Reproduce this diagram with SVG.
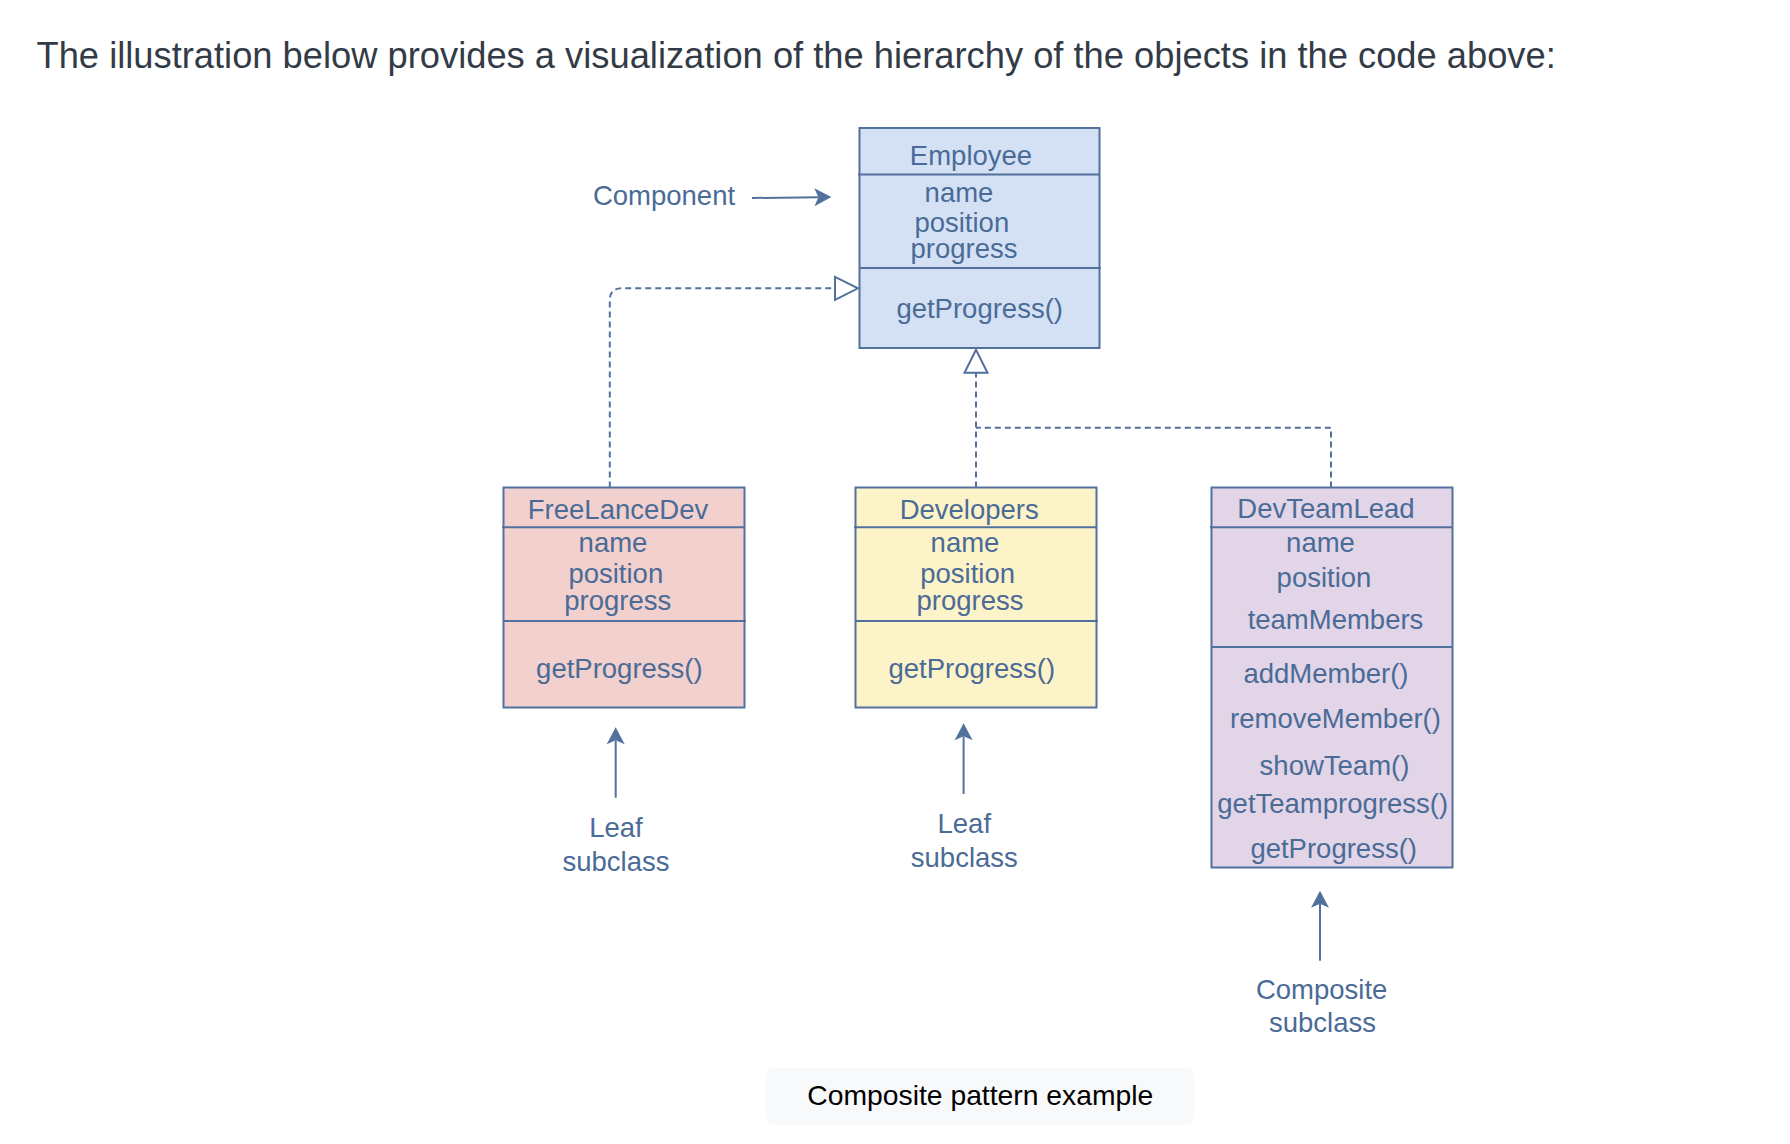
<svg xmlns="http://www.w3.org/2000/svg" width="1790" height="1144" viewBox="0 0 1790 1144">
<style>
  .t { font-family: "Liberation Sans", Arial, Helvetica, sans-serif; font-size: 27.5px; fill: #4b6b97; text-anchor: middle; }
  .box { stroke: #52719c; stroke-width: 2; }
  .div { stroke: #52719c; stroke-width: 2; fill: none; }
  .dash { stroke: #52719c; stroke-width: 2; fill: none; stroke-dasharray: 6 4; }
  .solid { stroke: #52719c; stroke-width: 2; fill: none; }
  .title { font-family: "Liberation Sans", Arial, Helvetica, sans-serif; font-size: 36.3px; fill: #333b47; }
  .cap { font-family: "Liberation Sans", Arial, Helvetica, sans-serif; font-size: 28.3px; fill: #000000; text-anchor: middle; }
</style>
<defs>
  <marker id="arrow" markerUnits="userSpaceOnUse" viewBox="0 0 17 18" refX="4" refY="9" markerWidth="17" markerHeight="18" orient="auto" overflow="visible">
    <path d="M17 9 L0 0 L4 9 L0 18 Z" fill="#52719c" stroke="none"/>
  </marker>
  <marker id="tri" markerUnits="userSpaceOnUse" viewBox="0 0 23 23" refX="0" refY="11.5" markerWidth="23" markerHeight="23" orient="auto" overflow="visible">
    <path d="M0 0 L23 11.5 L0 23 Z" fill="#ffffff" stroke="#52719c" stroke-width="2"/>
  </marker>
</defs>
<rect x="0" y="0" width="1790" height="1144" fill="#ffffff"/>
<text class="title" x="36.5" y="68">The illustration below provides a visualization of the hierarchy of the objects in the code above:</text>

<g id="connectors">
  <path class="dash" d="M609.8 487.5 L609.8 300.3 Q609.8 288.3 621.8 288.3 L835 288.3" marker-end="url(#tri)"/>
  <path class="dash" d="M976 487.5 L976 372.7" marker-end="url(#tri)"/>
  <path class="dash" d="M1331 487.5 L1331 427.7 L976 427.7"/>
  <path class="solid" d="M752 198 L818.4 197.2" marker-end="url(#arrow)"/>
  <path class="solid" d="M615.7 797.7 L615.7 740.3" marker-end="url(#arrow)"/>
  <path class="solid" d="M963.6 794 L963.6 736.3" marker-end="url(#arrow)"/>
  <path class="solid" d="M1320 960.7 L1320 903.7" marker-end="url(#arrow)"/>
</g>

<g id="employee">
  <rect class="box" x="859.5" y="128" width="240" height="220" fill="#d4e1f5"/>
  <line class="div" x1="858" y1="174.5" x2="1099.5" y2="174.5"/>
  <line class="div" x1="859.5" y1="268" x2="1101" y2="268"/>
  <text class="t" x="971" y="165">Employee</text>
  <text class="t" x="959" y="202.3">name</text>
  <text class="t" x="961.8" y="232.3">position</text>
  <text class="t" x="964" y="258.3">progress</text>
  <text class="t" x="979.7" y="318.3">getProgress()</text>
</g>

<g id="component-label">
  <text class="t" x="664" y="205">Component</text>
</g>

<g id="freelancedev">
  <rect class="box" x="503.5" y="487.5" width="241" height="220" fill="#f2d0cd"/>
  <line class="div" x1="502" y1="527.3" x2="744.5" y2="527.3"/>
  <line class="div" x1="503.5" y1="621" x2="746" y2="621"/>
  <text class="t" x="618" y="519">FreeLanceDev</text>
  <text class="t" x="613" y="551.7">name</text>
  <text class="t" x="615.8" y="583.3">position</text>
  <text class="t" x="617.8" y="610">progress</text>
  <text class="t" x="619.4" y="678.3">getProgress()</text>
</g>

<g id="developers">
  <rect class="box" x="855.5" y="487.5" width="241" height="220" fill="#fdf3c9"/>
  <line class="div" x1="854" y1="527.3" x2="1096.5" y2="527.3"/>
  <line class="div" x1="855.5" y1="621" x2="1098" y2="621"/>
  <text class="t" x="969.2" y="519">Developers</text>
  <text class="t" x="965" y="551.7">name</text>
  <text class="t" x="967.6" y="583.3">position</text>
  <text class="t" x="970" y="610">progress</text>
  <text class="t" x="971.8" y="678.3">getProgress()</text>
</g>

<g id="devteamlead">
  <rect class="box" x="1211.5" y="487.5" width="241" height="380" fill="#e1d5e7"/>
  <line class="div" x1="1210" y1="527.3" x2="1452.5" y2="527.3"/>
  <line class="div" x1="1211.5" y1="647" x2="1452.5" y2="647"/>
  <text class="t" x="1326" y="518.3">DevTeamLead</text>
  <text class="t" x="1320.5" y="551.7">name</text>
  <text class="t" x="1324" y="586.7">position</text>
  <text class="t" x="1335.5" y="629.3">teamMembers</text>
  <text class="t" x="1326" y="683.3">addMember()</text>
  <text class="t" x="1335.5" y="728.3">removeMember()</text>
  <text class="t" x="1334.5" y="775">showTeam()</text>
  <text class="t" x="1332.7" y="813.3">getTeamprogress()</text>
  <text class="t" x="1333.7" y="858.3">getProgress()</text>
</g>

<g id="leaf1-label">
  <text class="t" x="616" y="836.7">Leaf</text>
  <text class="t" x="616" y="870.7">subclass</text>
</g>
<g id="leaf2-label">
  <text class="t" x="964.3" y="832.7">Leaf</text>
  <text class="t" x="964.3" y="866.7">subclass</text>
</g>
<g id="composite-label">
  <text class="t" x="1321.7" y="999.3">Composite</text>
  <text class="t" x="1322.5" y="1031.7">subclass</text>
</g>

<g id="caption">
  <rect x="766" y="1068" width="428" height="57" rx="8" fill="#f8f9fb"/>
  <text class="cap" x="980.3" y="1105">Composite pattern example</text>
</g>
</svg>
